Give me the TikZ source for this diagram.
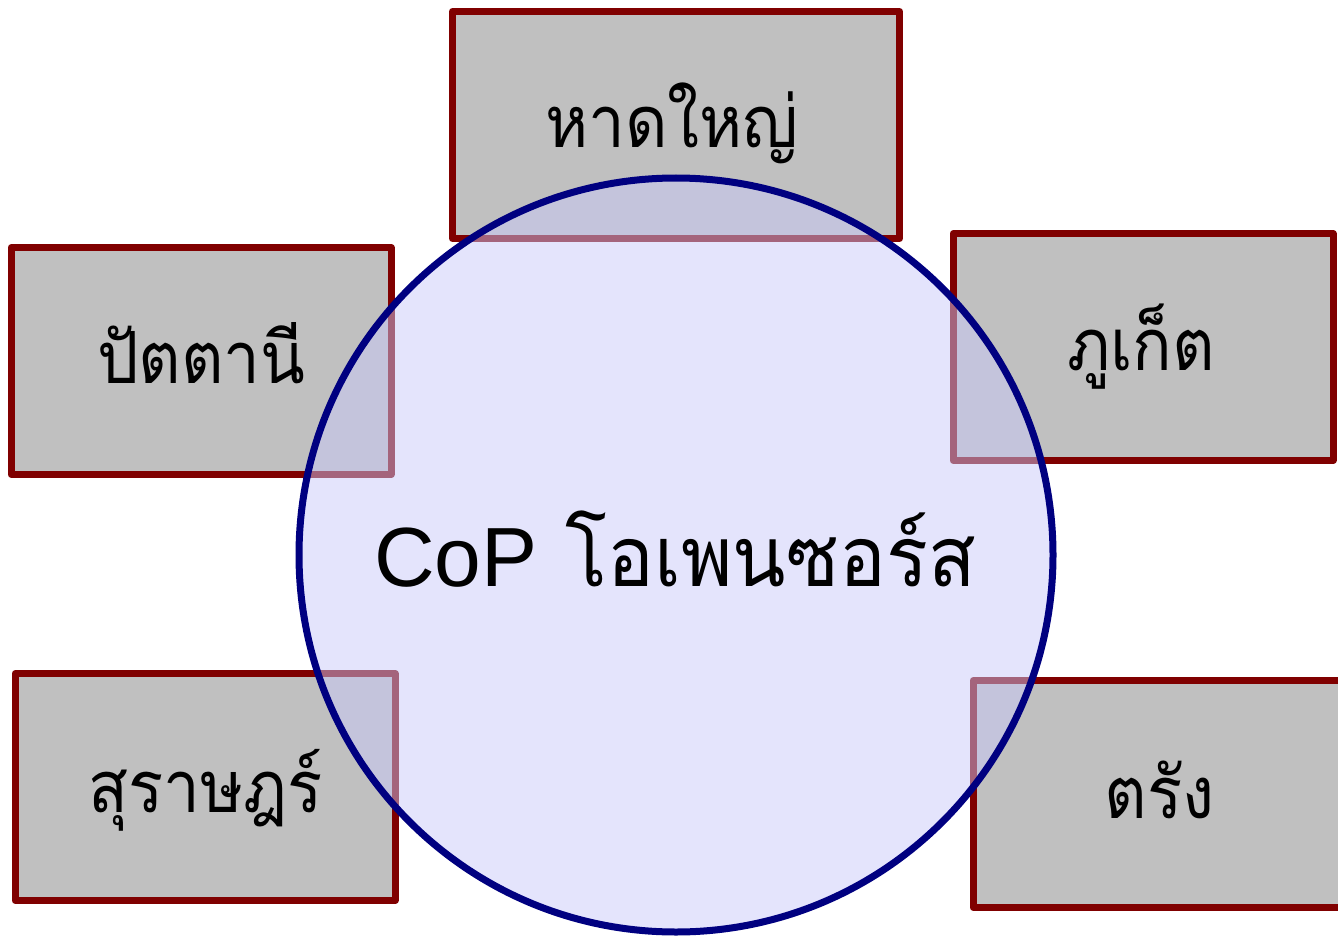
\documentclass[tikz,border=0pt]{standalone}
\usepackage{fontspec}
\setmainfont{Liberation Sans}
\newfontfamily\thaifont[Script=Thai,FakeStretch=0.93]{Loma}
\newfontfamily\thaibox[Script=Thai,FakeStretch=0.91]{Loma}
\definecolor{boxgray}{RGB}{192,192,192}
\definecolor{boxred}{RGB}{128,0,0}
\definecolor{circfill}{RGB}{201,201,249}
\definecolor{circline}{RGB}{0,0,128}
\begin{document}
\begin{tikzpicture}[x=1pt,y=-1pt,
  region/.style={rectangle, draw=boxred, fill=boxgray, line width=7pt, line join=round,
    inner sep=0pt, minimum height=227pt, minimum width=380pt},
  regionlabel/.style={anchor=base, inner sep=0pt,
    font=\thaibox\fontsize{72}{78}\selectfont},
  cop/.style={circle, draw=circline, fill=circfill, fill opacity=0.5,
    line width=7pt, minimum size=754pt, inner sep=0pt},
  coplabel/.style={anchor=base, inner sep=0pt}]
\useasboundingbox (0,0) rectangle (1338,936);
\clip (0,0) rectangle (1338,936);
\node[region, minimum width=447pt] (hatyai) at (676,125) {};
\node[region] (pattani) at (201,361) {};
\node[region] (phuket) at (1143,347) {};
\node[region] (surat) at (205,787) {};
\node[region] (trang) at (1163,794) {};
\node[regionlabel] (hatyaitext) at (672,148) {หาดใหญ่};
\node[regionlabel] (pattanitext) at (201.5,383) {ปัตตานี};
\node[regionlabel] (phukettext) at (1141,370) {ภูเก็ต};
\node[regionlabel] (surattext) at (205.5,812) {สุราษฎร์};
\node[regionlabel] (trangtext) at (1159.5,818) {ตรัง};
\node[cop] (center) at (676,555) {};
\node[coplabel] (centertext) at (675,586) {{\fontsize{84}{90}\selectfont CoP}\hspace{28pt}{\thaifont\fontsize{84}{90}\selectfont โอเพนซอร์ส}};
\end{tikzpicture}
\end{document}
